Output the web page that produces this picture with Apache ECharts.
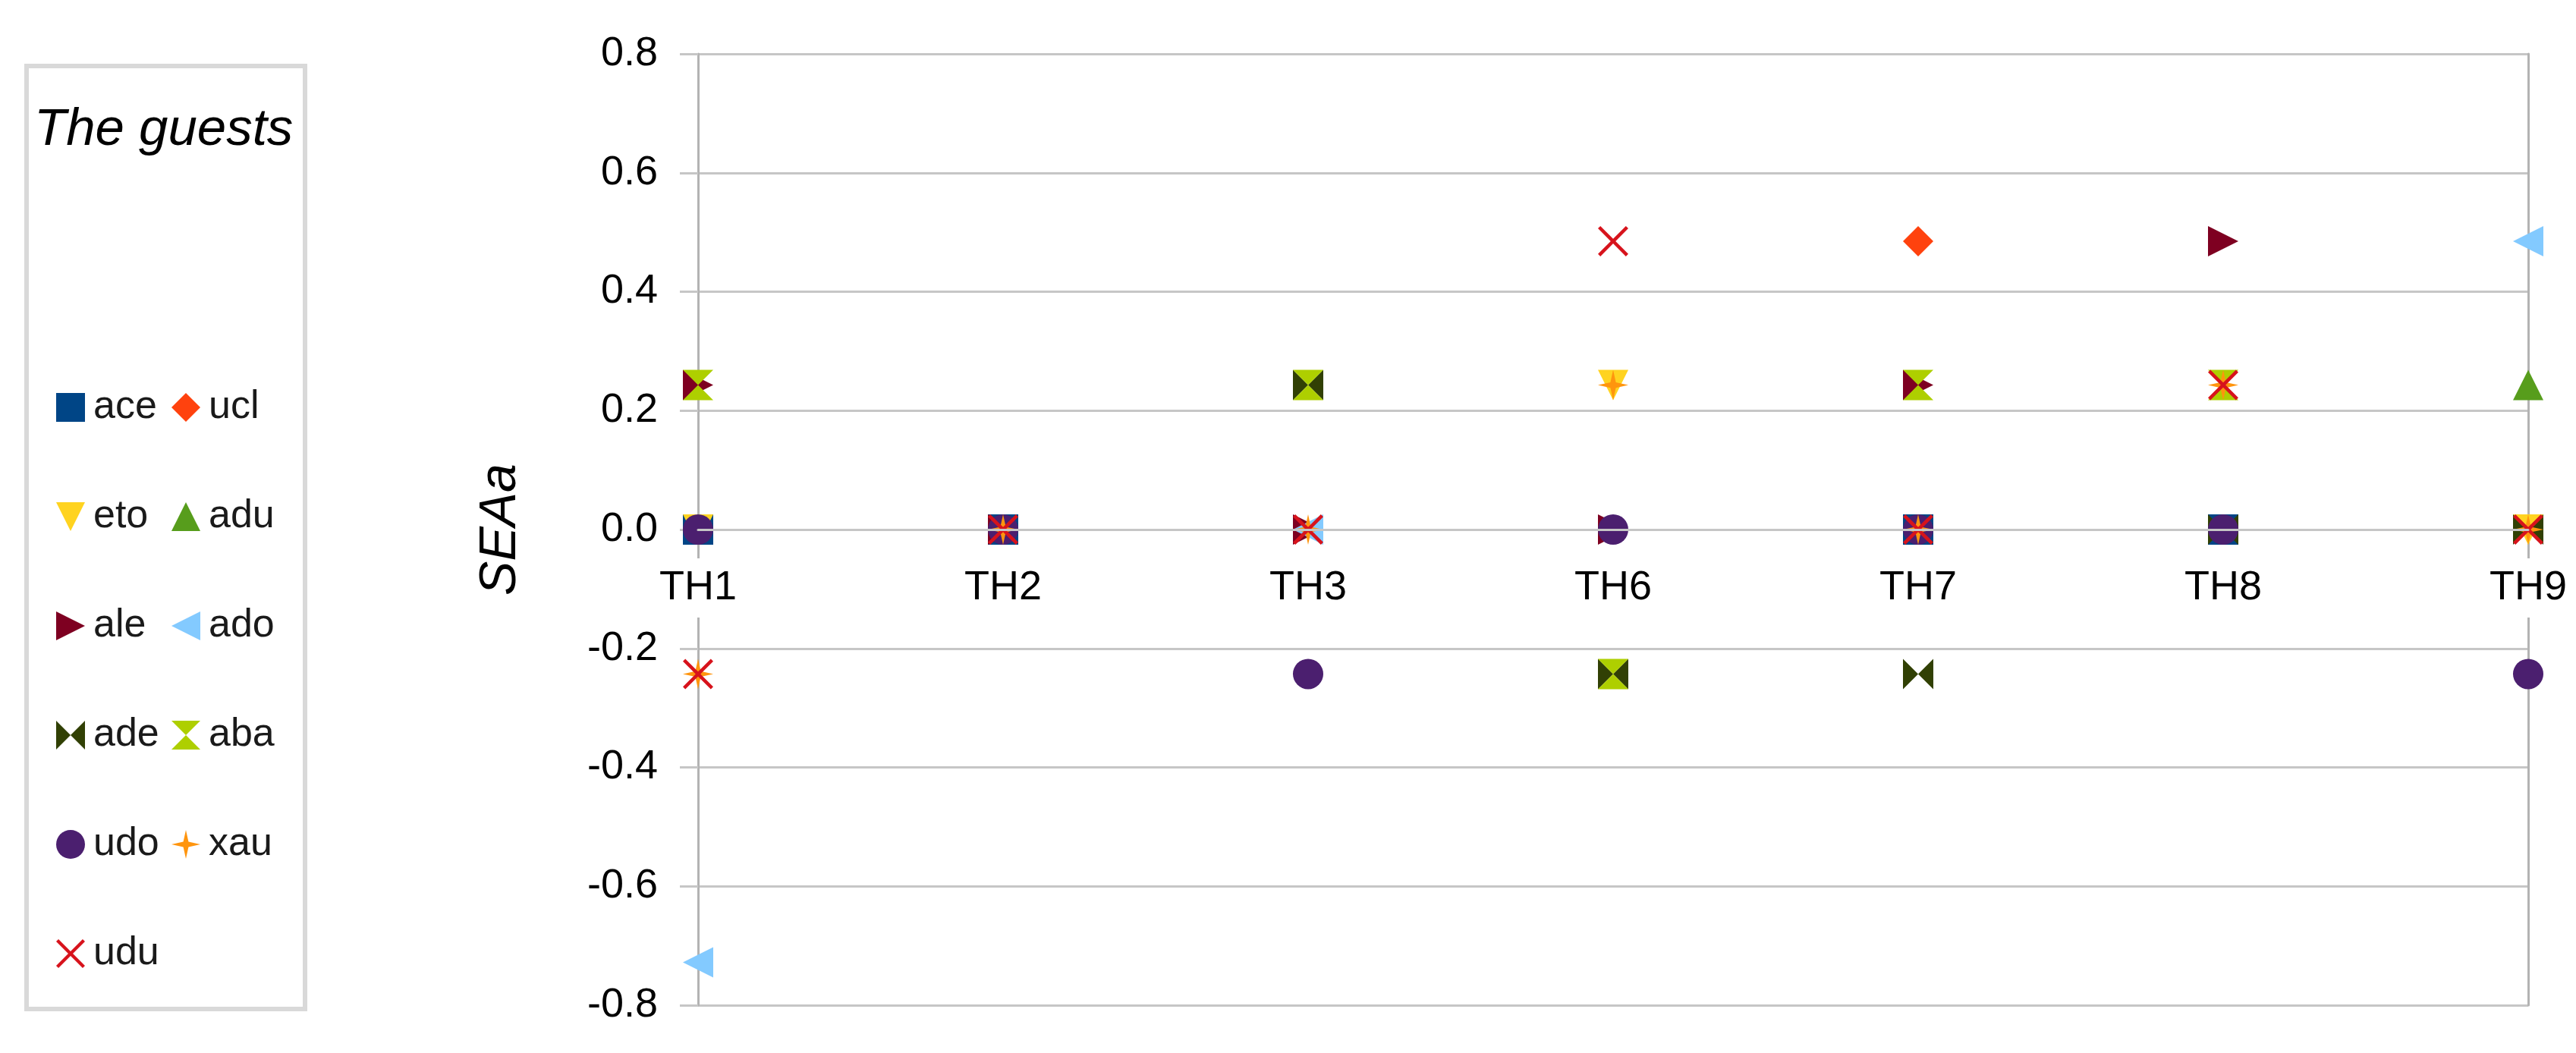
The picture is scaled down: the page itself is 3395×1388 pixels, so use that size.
<!DOCTYPE html>
<html lang="en">
<head>
    <meta charset="UTF-8">
    <title>SEAa</title>
    <script src="https://cdn.jsdelivr.net/npm/echarts@6/dist/echarts.min.js"></script>
    <style>
        body { margin: 0; background: #fff; }
    </style>
</head>
<body>
<div id="echarts" style="width: 3395px;height:1388px"></div>
<script>
    // categories (x axis)
    var categories = ['TH1', 'TH2', 'TH3', 'TH6', 'TH7', 'TH8', 'TH9'];

    // y axis range
    var yMin = -0.8, yMax = 0.8, yStep = 0.2;

    // one array per guest, same order as categories (null = not shown)
    var ace = [0, 0, null, null, 0, 0, null];
    var ucl = [null, null, null, null, 0.485, null, null];
    var eto = [0, null, null, 0.243, null, null, 0];
    var adu = [null, null, null, null, null, null, 0.243];
    var ale = [0.243, 0, 0, 0, 0.243, 0.485, null];
    var ado = [-0.728, null, 0, null, null, null, 0.485];
    var ade = [null, null, 0.243, -0.243, -0.243, 0, 0];
    var aba = [0.243, null, 0.243, -0.243, 0.243, 0.243, null];
    var udo = [0, 0, -0.243, 0, 0, 0, -0.243];
    var xau = [-0.243, 0, 0, 0.243, 0, 0.243, 0];
    var udu = [-0.243, 0, 0, 0.485, 0, 0.243, 0];

    var font = 'Liberation Sans, Arial, sans-serif';

    // grid box
    var W = 3395, H = 1388;
    var gridLeft = 920, gridRight = 63, gridTop = 71, gridBottom = 63;
    // move the category axis up to the y = 0 line
    var gridHeight = H - gridTop - gridBottom;
    var zeroOffset = -gridHeight * (0 - yMin) / (yMax - yMin);

    // marker shapes
    var shapes = {
        square: 'rect',
        diamond: 'diamond',
        down: 'path://M0,0L10,0L5,10Z',
        up: 'path://M5,0L10,10L0,10Z',
        right: 'path://M0,0L10,5L0,10Z',
        left: 'path://M10,0L0,5L10,10Z',
        bowtie: 'path://M0,0L5,5L0,10ZM10,0L5,5L10,10Z',
        hourglass: 'path://M0,0L10,0L5,5ZM0,10L5,5L10,10Z',
        circle: 'circle',
        star: 'path://M5,0L5.9,4.1L10,5L5.9,5.9L5,10L4.1,5.9L0,5L4.1,4.1Z',
        cross: 'path://M0,0.8L0.8,0L5,4.2L9.2,0L10,0.8L5.8,5L10,9.2L9.2,10L5,5.8L0.8,10L0,9.2L4.2,5Z'
    };

    var guests = [
        {name: 'ace', data: ace, color: '#004586', symbol: shapes.square},
        {name: 'ucl', data: ucl, color: '#ff420e', symbol: shapes.diamond},
        {name: 'eto', data: eto, color: '#ffd320', symbol: shapes.down},
        {name: 'adu', data: adu, color: '#579d1c', symbol: shapes.up},
        {name: 'ale', data: ale, color: '#7e0021', symbol: shapes.right},
        {name: 'ado', data: ado, color: '#83caff', symbol: shapes.left},
        {name: 'ade', data: ade, color: '#314004', symbol: shapes.bowtie},
        {name: 'aba', data: aba, color: '#aecf00', symbol: shapes.hourglass},
        {name: 'udo', data: udo, color: '#4b1f6f', symbol: shapes.circle},
        {name: 'xau', data: xau, color: '#ff950e', symbol: shapes.star},
        {name: 'udu', data: udu, color: '#d7131c', symbol: shapes.cross}
    ];

    var chartDom = document.getElementById('echarts');
    var myChart = echarts.init(chartDom);
    var option;

    var legendBase = {
        orient: 'vertical',
        top: 502,
        itemWidth: 38,
        itemHeight: 38,
        itemGap: 84,
        selectedMode: false,
        textStyle: {
            fontFamily: font,
            fontSize: 52,
            lineHeight: 60,
            color: '#1a1a1a',
            padding: [0, 0, 0, 6]
        }
    };

    option = {
        animation: false,
        backgroundColor: '#fff',
        // legend title
        title: {
            text: 'The guests',
            left: 40,
            top: 132,
            textStyle: {
                fontFamily: font,
                fontStyle: 'italic',
                fontWeight: 'normal',
                fontSize: 69,
                color: '#000'
            }
        },
        // legend frame
        graphic: [{
            type: 'rect',
            shape: {x: 35, y: 87, width: 367, height: 1243},
            style: {fill: 'none', stroke: '#d9d9d9', lineWidth: 6},
            silent: true
        }],
        // two legend columns
        legend: [
            Object.assign({}, legendBase, {left: 69, data: ['ace', 'eto', 'ale', 'ade', 'udo', 'udu']}),
            Object.assign({}, legendBase, {left: 221, data: ['ucl', 'adu', 'ado', 'aba', 'xau']})
        ],
        grid: {
            left: gridLeft,
            right: gridRight,
            top: gridTop,
            bottom: gridBottom,
            containLabel: false,
            outerBoundsMode: 'none'
        },
        xAxis: {
            type: 'category',
            data: categories,
            boundaryGap: false,
            position: 'bottom',
            offset: zeroOffset,
            z: 3,
            axisLine: {onZero: false, lineStyle: {color: '#c6c6c6', width: 3}},
            axisTick: {show: false},
            axisLabel: {
                interval: 0,
                margin: 38,
                fontFamily: font,
                fontSize: 54,
                lineHeight: 60,
                color: '#000',
                backgroundColor: '#fff',
                padding: [9, 8]
            },
            splitLine: {show: false}
        },
        yAxis: [{
            type: 'value',
            min: yMin,
            max: yMax,
            interval: yStep,
            z: 1,
            name: 'SEAa',
            nameLocation: 'middle',
            nameRotate: 90,
            nameGap: 226,
            nameTextStyle: {
                fontFamily: font,
                fontStyle: 'italic',
                fontSize: 68,
                color: '#000'
            },
            axisLine: {show: true, lineStyle: {color: '#b3b3b3', width: 3}},
            axisTick: {show: true, length: 24, lineStyle: {color: '#c6c6c6', width: 3}},
            axisLabel: {
                margin: 53,
                fontFamily: font,
                fontSize: 54,
                color: '#000',
                formatter: function (v) { return v.toFixed(1); }
            },
            splitLine: {lineStyle: {color: '#c6c6c6', width: 3}}
        }, {
            // right frame line at TH9
            type: 'value',
            position: 'right',
            min: yMin,
            max: yMax,
            interval: yStep,
            z: 1,
            axisLine: {show: true, lineStyle: {color: '#b3b3b3', width: 3}},
            axisTick: {show: false},
            axisLabel: {show: false},
            splitLine: {show: false}
        }],
        series: guests.map(function (g) {
            return {
                name: g.name,
                type: 'scatter',
                data: g.data,
                symbol: g.symbol,
                symbolSize: 40,
                itemStyle: {color: g.color, opacity: 1}
            };
        })
    };

    option && myChart.setOption(option);
</script>
</body>
</html>
